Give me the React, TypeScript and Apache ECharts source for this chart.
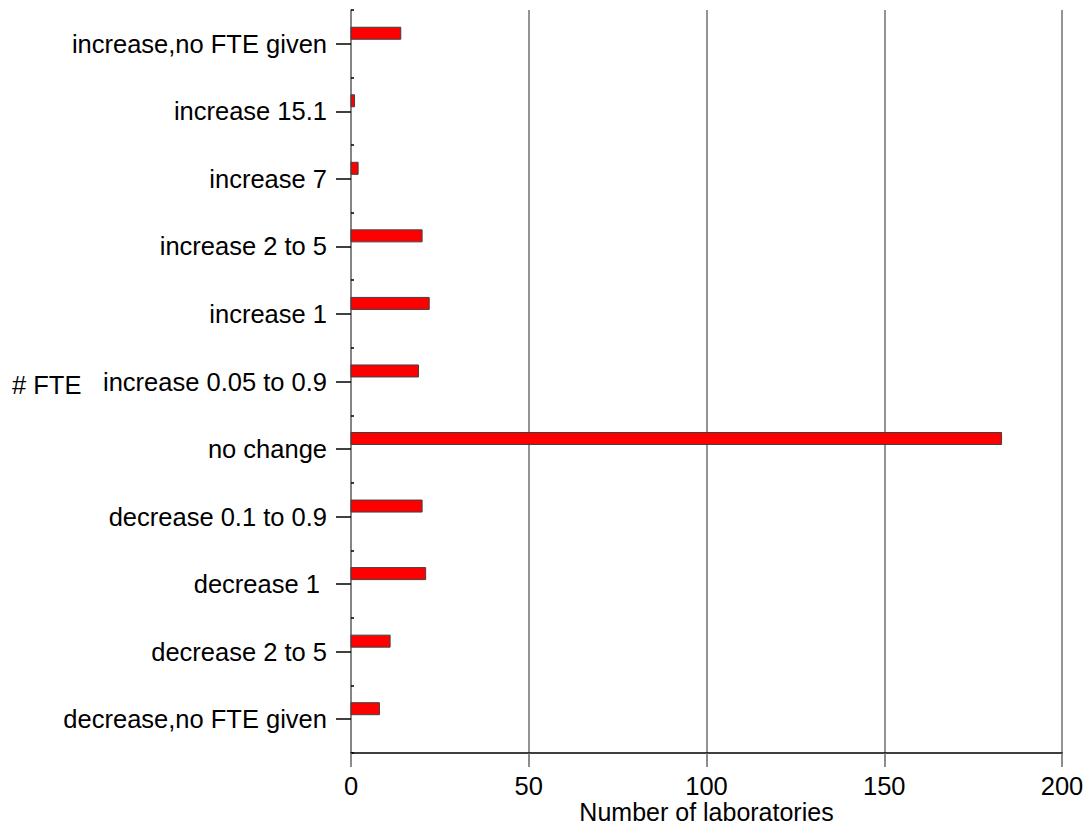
import React, { useEffect, useRef } from "react";
import * as echarts from "echarts";

const categories = [
  "decrease,no FTE given",
  "decrease 2 to 5",
  "decrease 1 ",
  "decrease 0.1 to 0.9",
  "no change",
  "increase 0.05 to 0.9",
  "increase 1",
  "increase 2 to 5",
  "increase 7",
  "increase 15.1",
  "increase,no FTE given",
];
const counts = [8, 11, 21, 20, 183, 19, 22, 20, 2, 1, 14];
const xTicks = { min: 0, max: 200, interval: 50 };
const axisTitle = "Number of laboratories";
const sideLabel = "# FTE";

export default function App() {
  const ref = useRef<HTMLDivElement>(null);
  useEffect(() => {
    if (!ref.current) return;
    const chart = echarts.init(ref.current, null, { renderer: "svg" });
    const font = "'Liberation Sans', Arial, sans-serif";
    const fs = 25.5;
    chart.setOption({
      animation: false,
      backgroundColor: "#ffffff",
      textStyle: { fontFamily: font },
      grid: { left: 351, right: 25, top: 10, bottom: 74, containLabel: false, outerBoundsMode: "none" },
      xAxis: {
        type: "value",
        min: xTicks.min,
        max: xTicks.max,
        interval: xTicks.interval,
        name: axisTitle,
        nameLocation: "middle",
        nameGap: 47,
        nameMoveOverlap: false,
        nameTextStyle: { fontSize: 25, lineHeight: 24, color: "#000", fontFamily: font },
        axisLine: { show: true, lineStyle: { color: "#000", width: 1.5 } },
        axisTick: { show: true, inside: false, length: 14, lineStyle: { color: "#666", width: 1.5 } },
        axisLabel: { fontSize: fs, color: "#000", margin: 20, fontFamily: font },
        splitLine: { show: true, lineStyle: { color: "#707070", width: 1.5 } },
      },
      yAxis: [
        {
          type: "category",
          data: categories,
          position: "left",
          axisLine: { show: true, lineStyle: { color: "#808080", width: 1.5 } },
          axisTick: { show: true, alignWithLabel: true, inside: false, length: 15, lineStyle: { color: "#000", width: 1.5 } },
          axisLabel: { fontSize: fs, color: "#000", margin: 24, fontFamily: font },
          splitLine: { show: false },
        },
        {
          type: "category",
          data: categories,
          position: "left",
          axisLine: { show: false },
          axisTick: { show: true, alignWithLabel: false, inside: true, length: 3, lineStyle: { color: "#000", width: 1.5 } },
          axisLabel: { show: false },
          splitLine: { show: false },
        },
      ],
      graphic: [
        {
          type: "text",
          left: 12,
          top: 372,
          style: { text: sideLabel, font: `${fs}px ${font}`, fill: "#000" },
        },
      ],
      series: [
        {
          type: "custom",
          yAxisIndex: 0,
          encode: { x: 0, y: 1 },
          data: counts.map((v, i) => [v, i]),
          renderItem: (params: any, api: any) => {
            const start = api.coord([0, api.value(1)]);
            const end = api.coord([api.value(0), api.value(1)]);
            const band = api.size([0, 1])[1];
            const h = 12;
            const cy = start[1] - band * 0.156;
            return {
              type: "rect",
              shape: { x: start[0], y: cy - h / 2, width: end[0] - start[0], height: h },
              style: { fill: "#ff0000", stroke: "#404040", lineWidth: 1 },
            };
          },
        },
      ],
    });
    return () => chart.dispose();
  }, []);
  return <div ref={ref} style={{ width: 1087, height: 827, position: "absolute", left: 0, top: 0 }} />;
}
